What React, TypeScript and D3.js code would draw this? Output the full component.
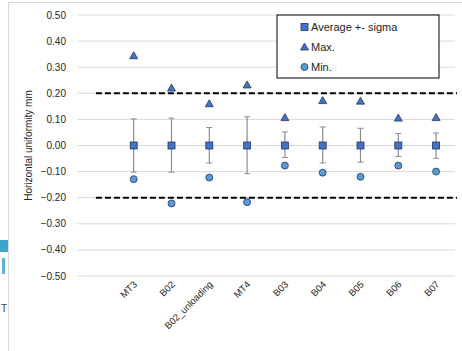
import * as d3 from 'd3';
import { useEffect, useRef } from 'react';

const categories = ['', 'MT3', 'B02', 'B02_unloading', 'MT4', 'B03', 'B04', 'B05', 'B06', 'B07'];
const averages = [null, 0.0, 0.0, 0.0, 0.0, 0.0, 0.0, 0.0, 0.0, 0.0];
const sigmaUp = [null, 0.102, 0.105, 0.069, 0.11, 0.052, 0.071, 0.066, 0.046, 0.048];
const sigmaDown = [null, 0.102, 0.102, 0.067, 0.108, 0.046, 0.067, 0.064, 0.042, 0.049];
const maxValues = [null, 0.344, 0.22, 0.16, 0.232, 0.107, 0.172, 0.17, 0.105, 0.107];
const minValues = [null, -0.129, -0.222, -0.123, -0.217, -0.077, -0.104, -0.12, -0.077, -0.1];
const yTicks = [0.5, 0.4, 0.3, 0.2, 0.1, 0, -0.1, -0.2, -0.3, -0.4, -0.5];
const limits = [0.2, -0.2];

export default function App() {
  const ref = useRef<SVGSVGElement | null>(null);

  useEffect(() => {
    const svg = d3.select(ref.current);
    svg.selectAll('*').remove();
    const width = 462, height = 351;
    const font = "'Liberation Sans', Arial, sans-serif";
    const left = 77, right = 455, top = 15, bottom = 276;

    // bits of the slide around the chart
    svg.append('rect').attr('width', width).attr('height', height).attr('fill', '#fff');
    svg.append('line').attr('x1', 8).attr('x2', width).attr('y1', 2.5).attr('y2', 2.5).attr('stroke', '#d9d9d9');
    svg.append('line').attr('x1', 8.5).attr('x2', 8.5).attr('y1', 2).attr('y2', height).attr('stroke', '#d9d9d9');
    svg.append('rect').attr('x', 0).attr('y', 240).attr('width', 8).attr('height', 12).attr('fill', '#3aa6c9');
    svg.append('rect').attr('x', 2).attr('y', 258).attr('width', 3).attr('height', 16).attr('fill', '#5fb3d6');
    svg.append('text').attr('x', 1).attr('y', 312).attr('font-family', font).attr('font-size', 10).attr('fill', '#444').text('T');

    const x = d3.scaleBand().domain(categories).range([left, right]).padding(0);
    const cx = (i: number) => (x(categories[i]) as number) + x.bandwidth() / 2;
    const y = d3.scaleLinear().domain([-0.5, 0.5]).range([bottom, top]);

    const grid = svg.append('g');
    yTicks.forEach((t) => {
      grid.append('line').attr('x1', left).attr('x2', right).attr('y1', y(t)).attr('y2', y(t)).attr('stroke', '#d9d9d9').attr('stroke-width', 1);
      grid.append('text').attr('x', 66).attr('y', y(t) + 3.5).attr('text-anchor', 'end')
        .attr('font-family', font).attr('font-size', 10).attr('fill', '#262626').text(d3.format('.2f')(t));
    });

    svg.append('text').attr('transform', `translate(32,${(top + bottom) / 2}) rotate(-90)`)
      .attr('text-anchor', 'middle').attr('font-family', font).attr('font-size', 10).attr('fill', '#262626')
      .text('Horizontal uniformity mm');

    limits.forEach((l) => {
      svg.append('line').attr('x1', cx(0)).attr('x2', right + 2).attr('y1', y(l)).attr('y2', y(l))
        .attr('stroke', '#000').attr('stroke-width', 2).attr('stroke-dasharray', '6,3');
    });

    categories.forEach((c, i) => {
      if (!c) return;
      svg.append('text').attr('transform', `translate(${cx(i) + 4},285) rotate(-45)`)
        .attr('text-anchor', 'end').attr('font-family', font).attr('font-size', 9.5).attr('fill', '#262626').text(c);
    });

    const pts = svg.append('g');
    categories.forEach((c, i) => {
      if (!c) return;
      const px = cx(i);
      const avg = averages[i] as number;
      const up = y(avg + (sigmaUp[i] as number));
      const dn = y(avg - (sigmaDown[i] as number));
      pts.append('line').attr('x1', px).attr('x2', px).attr('y1', up).attr('y2', dn).attr('stroke', '#8c8c8c').attr('stroke-width', 1.2);
      [up, dn].forEach((v) => pts.append('line').attr('x1', px - 3).attr('x2', px + 3).attr('y1', v).attr('y2', v).attr('stroke', '#8c8c8c'));
      pts.append('rect').attr('x', px - 3.5).attr('y', y(avg) - 3.5).attr('width', 7).attr('height', 7)
        .attr('fill', '#4472c4').attr('stroke', '#1f3864').attr('stroke-width', 0.8);
      const ty = y(maxValues[i] as number);
      pts.append('path').attr('d', `M${px},${ty - 4}L${px + 4},${ty + 3}L${px - 4},${ty + 3}Z`)
        .attr('fill', '#4472c4').attr('stroke', '#1f3864').attr('stroke-width', 0.8);
      pts.append('circle').attr('cx', px).attr('cy', y(minValues[i] as number)).attr('r', 3.5)
        .attr('fill', '#5b9bd5').attr('stroke', '#1f3864').attr('stroke-width', 0.8);
    });

    // legend
    const lg = svg.append('g');
    lg.append('rect').attr('x', 277).attr('y', 15).attr('width', 162).attr('height', 63).attr('fill', '#fff').attr('stroke', '#000').attr('stroke-width', 1);
    const items = ['Average +- sigma', 'Max.', 'Min.'];
    items.forEach((t, k) => {
      const ly = 27 + k * 20;
      if (k === 0) lg.append('rect').attr('x', 301).attr('y', ly - 3.5).attr('width', 7).attr('height', 7).attr('fill', '#4472c4').attr('stroke', '#1f3864').attr('stroke-width', 0.8);
      if (k === 1) lg.append('path').attr('d', `M304.5,${ly - 4}L308.5,${ly + 3}L300.5,${ly + 3}Z`).attr('fill', '#4472c4').attr('stroke', '#1f3864').attr('stroke-width', 0.8);
      if (k === 2) lg.append('circle').attr('cx', 304.5).attr('cy', ly).attr('r', 3.5).attr('fill', '#5b9bd5').attr('stroke', '#1f3864').attr('stroke-width', 0.8);
      lg.append('text').attr('x', 311).attr('y', ly + 4).attr('font-family', font).attr('font-size', 11).attr('fill', '#262626').text(t);
    });
  }, []);

  return (
    <div style={{ position: 'absolute', left: 0, top: 0 }}>
      <svg ref={ref} width={462} height={351} style={{ display: 'block' }} />
    </div>
  );
}
